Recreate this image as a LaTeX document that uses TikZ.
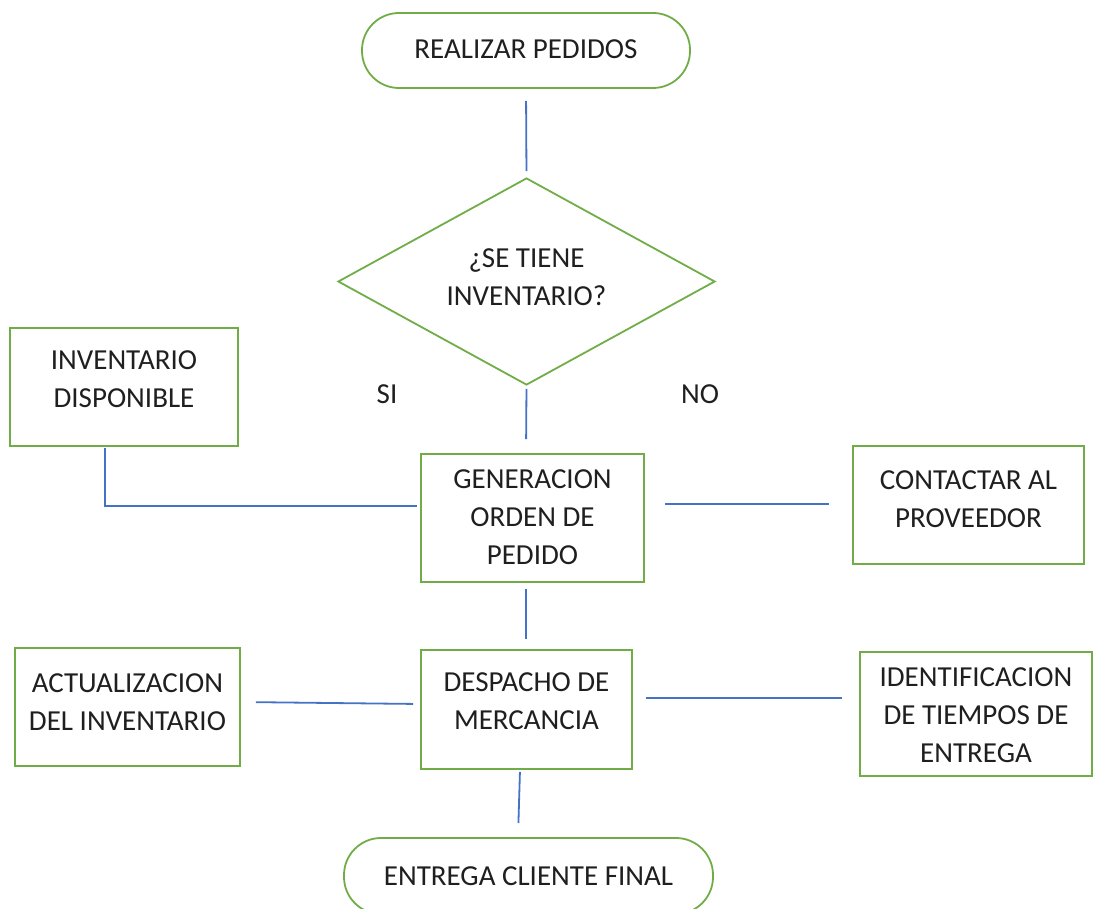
\documentclass[tikz,border=0pt]{standalone}
\usepackage{fontspec}
\setmainfont{Carlito}
\usetikzlibrary{shapes.geometric}
\definecolor{boxgreen}{HTML}{70AD47}
\definecolor{lineblue}{HTML}{4472C4}
\begin{document}
\begin{tikzpicture}[x=1pt,y=-1pt,
  every node/.style={font=\fontsize{29}{38}\selectfont, text=black!88, align=center, inner sep=0pt},
  stepbox/.style={draw=boxgreen, line width=1.8pt, rectangle},
  term/.style={draw=boxgreen, line width=1.8pt, rectangle, rounded corners=37pt},
  decision/.style={draw=boxgreen, line width=1.8pt, diamond},
  conn/.style={draw=lineblue, line width=1.8pt}]
\useasboundingbox (0,0) rectangle (1094,909);
\node[term, minimum width=328pt, minimum height=75pt] (t1) at (526,50.5) {};
\node (t1t) at ([yshift=1pt]t1.center) {REALIZAR PEDIDOS};
\node[decision, minimum width=377pt, minimum height=207pt] (dec) at (526.5,281.5) {};
\node (dect) at ([yshift=4pt]dec.center) {¿SE TIENE\\INVENTARIO?};
\node[stepbox, minimum width=228pt, minimum height=118pt] (inv) at (124,387) {};
\node (invt) at ([yshift=8pt]inv.center) {INVENTARIO\\DISPONIBLE};
\node[stepbox, minimum width=223pt, minimum height=128pt] (gen) at (532.5,518) {};
\node (gent) at ([yshift=1pt]gen.center) {GENERACION\\ORDEN DE\\PEDIDO};
\node[stepbox, minimum width=231pt, minimum height=118pt] (con) at (968.5,505) {};
\node (cont) at ([yshift=6pt]con.center) {CONTACTAR AL\\PROVEEDOR};
\node[stepbox, minimum width=211pt, minimum height=119pt] (des) at (526.5,709.5) {};
\node (dest) at ([yshift=8pt]des.center) {DESPACHO DE\\MERCANCIA};
\node[stepbox, minimum width=225pt, minimum height=118pt] (act) at (127.5,707) {};
\node (actt) at ([yshift=5pt]act.center) {ACTUALIZACION\\DEL INVENTARIO};
\node[stepbox, minimum width=232pt, minimum height=124pt] (ide) at (976,714) {};
\node (idet) at ([yshift=-1pt]ide.center) {IDENTIFICACION\\DE TIEMPOS DE\\ENTREGA};
\node[term, minimum width=369pt, minimum height=76pt] (t2) at (528.5,876) {};
\node (t2t) at (t2.center) {ENTREGA CLIENTE FINAL};
\node (si) at (387,394) {SI};
\node (no) at (700,394) {NO};
% connectors
\draw[conn, shorten <=12pt, shorten >=6pt] (t1.south) -- (dec.north);
\draw[conn, shorten <=3pt, shorten >=14pt] (dec.south) -- ([xshift=-6.5pt]gen.north);
\draw[conn, shorten <=1pt, shorten >=3pt] ([xshift=-19pt]inv.south) |- ([yshift=12pt]gen.west);
\draw[conn, shorten <=20pt, shorten >=23pt] ([yshift=14pt]gen.east) -- ([yshift=1pt]con.west);
\draw[conn, shorten <=6pt, shorten >=10pt] ([xshift=-6.5pt]gen.south) -- ([xshift=-0.5pt]des.north);
\draw[conn, shorten <=15pt, shorten >=7pt] ([yshift=5pt]act.east) -- ([yshift=5.5pt]des.west);
\draw[conn, shorten <=13pt, shorten >=17pt] ([yshift=11.5pt]des.east) -- ([yshift=16pt]ide.west);
\draw[conn, shorten <=2pt, shorten >=14pt] ([xshift=-6.5pt]des.south) -- ([xshift=-10.5pt]t2.north);
\end{tikzpicture}
\end{document}
